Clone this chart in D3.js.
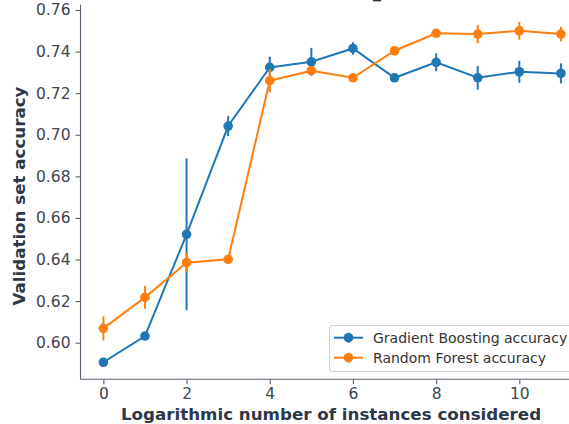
<!DOCTYPE html>
<html>
<head>
<meta charset="utf-8">
<script src="https://cdn.jsdelivr.net/npm/d3@7"></script>
<style>
  body { margin: 0; background: #fff; }
  svg { font-family: "DejaVu Sans", sans-serif; }
</style>
</head>
<body>
<script>
// log2 of instances considered
const steps = [0, 1, 2, 3, 4, 5, 6, 7, 8, 9, 10, 11];

// Gradient Boosting: mean accuracy and std
const gbMean = [0.5906, 0.6032, 0.6521, 0.7042, 0.7324, 0.7351, 0.7415, 0.7274, 0.7348, 0.7274, 0.7303, 0.7295];
const gbErr  = [0.0, 0.0, 0.0365, 0.0048, 0.0052, 0.0067, 0.0030, 0.0020, 0.0043, 0.0057, 0.0053, 0.0048];

// Random Forest: mean accuracy and std
const rfMean = [0.6069, 0.6218, 0.6385, 0.6401, 0.7260, 0.7308, 0.7274, 0.7404, 0.7488, 0.7484, 0.7500, 0.7484];
const rfErr  = [0.0058, 0.0055, 0.0045, 0.0, 0.0056, 0.0020, 0.0, 0.0015, 0.0015, 0.0044, 0.0043, 0.0035];

const xTicks = [0, 2, 4, 6, 8, 10];
const yTicks = [0.60, 0.62, 0.64, 0.66, 0.68, 0.70, 0.72, 0.74, 0.76];

const seriesNames = ["Gradient Boosting accuracy", "Random Forest accuracy"];
const seriesColors = ["#1f77b4", "#ff7f0e"];

const width = 569, height = 424;

const svg = d3.select("body").append("svg")
    .attr("width", width)
    .attr("height", height);

const x = d3.scaleLinear().domain([-0.55, 11.55]).range([80.5, 583.8]);
const y = d3.scaleLinear().domain([0.5824, 0.7625]).range([379.3, 4.8]);

const tickColor = "#3f4550";
const spineColor = "#5a6270";
const labelColor = "#2c3747";

// title (cropped, only a sliver visible)
svg.append("text")
    .attr("x", 377).attr("y", -2.5)
    .attr("text-anchor", "middle")
    .attr("font-size", 16).attr("font-weight", "bold")
    .attr("fill", "#333")
    .text("_");

// x axis
const xAxis = svg.append("g")
    .attr("transform", `translate(0,${y.range()[0]})`)
    .call(d3.axisBottom(x).tickValues(xTicks).tickFormat(d3.format("d")).tickSize(5).tickPadding(4));
// y axis
const yAxis = svg.append("g")
    .attr("transform", `translate(${x.range()[0]},0)`)
    .call(d3.axisLeft(y).tickValues(yTicks).tickFormat(d3.format(".2f")).tickSize(5).tickPadding(5));

[xAxis, yAxis].forEach(a => {
    a.select(".domain").attr("stroke", spineColor).attr("stroke-width", 1.1);
    a.selectAll(".tick line").attr("stroke", spineColor).attr("stroke-width", 1.1);
    a.selectAll(".tick text")
        .attr("fill", tickColor)
        .attr("font-size", 15.5)
        .attr("font-family", "DejaVu Sans");
});
// matplotlib spine: no end caps
xAxis.select(".domain").attr("d", `M${x.range()[0]},0H${width}`);
yAxis.select(".domain").attr("d", `M0,${y.range()[0]}V${y.range()[1]}`);

// axis titles
svg.append("text")
    .attr("x", 331).attr("y", 420)
    .attr("text-anchor", "middle")
    .attr("font-size", 16.7).attr("font-weight", "bold")
    .attr("fill", labelColor)
    .text("Logarithmic number of instances considered");

svg.append("text")
    .attr("transform", `translate(24.5,196) rotate(-90)`)
    .attr("text-anchor", "middle")
    .attr("font-size", 16.7).attr("font-weight", "bold")
    .attr("fill", labelColor)
    .text("Validation set accuracy");

// series
const series = [
    { name: seriesNames[0], color: seriesColors[0], mean: gbMean, err: gbErr },
    { name: seriesNames[1], color: seriesColors[1], mean: rfMean, err: rfErr }
];

const line = d3.line().x(d => x(d.s)).y(d => y(d.m));

series.forEach(s => {
    const pts = steps.map((st, i) => ({ s: st, m: s.mean[i], e: s.err[i] }));
    const g = svg.append("g");
    g.append("path")
        .attr("d", line(pts))
        .attr("fill", "none")
        .attr("stroke", s.color)
        .attr("stroke-width", 2);
    g.selectAll("line.err")
        .data(pts.filter(p => p.e > 0))
        .enter().append("line")
        .attr("x1", p => x(p.s)).attr("x2", p => x(p.s))
        .attr("y1", p => y(p.m - p.e)).attr("y2", p => y(p.m + p.e))
        .attr("stroke", s.color)
        .attr("stroke-width", 2);
    g.selectAll("circle")
        .data(pts)
        .enter().append("circle")
        .attr("cx", p => x(p.s)).attr("cy", p => y(p.m))
        .attr("r", 4.8)
        .attr("fill", s.color);
});

// legend
const legend = svg.append("g");
legend.append("rect")
    .attr("x", 329.5).attr("y", 325.5)
    .attr("width", 250).attr("height", 46)
    .attr("rx", 2.5)
    .attr("fill", "#fff").attr("fill-opacity", 0.8)
    .attr("stroke", "#d0d0d0");

series.forEach((s, i) => {
    const ly = 337.7 + i * 20;
    legend.append("line")
        .attr("x1", 334).attr("x2", 363)
        .attr("y1", ly).attr("y2", ly)
        .attr("stroke", s.color).attr("stroke-width", 2);
    legend.append("line")
        .attr("x1", 348.5).attr("x2", 348.5)
        .attr("y1", ly - 5).attr("y2", ly + 5)
        .attr("stroke", s.color).attr("stroke-width", 2);
    legend.append("circle")
        .attr("cx", 348.5).attr("cy", ly)
        .attr("r", 4.8).attr("fill", s.color);
    legend.append("text")
        .attr("x", 373).attr("y", ly + 5)
        .attr("font-size", 14)
        .attr("fill", "#333")
        .text(s.name);
});
</script>
</body>
</html>
